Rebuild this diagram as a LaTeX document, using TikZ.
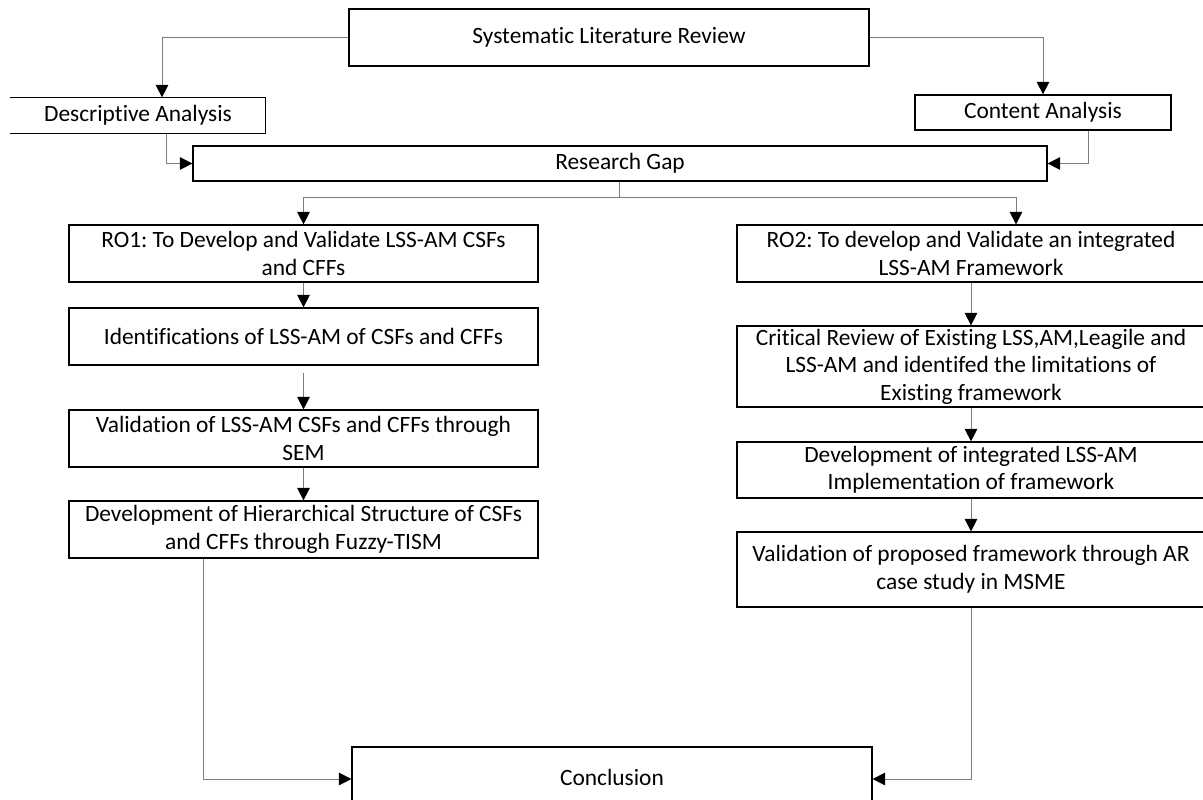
\documentclass[tikz,border=0pt]{standalone}
\usepackage{fontspec}
\setmainfont{Carlito}[Ligatures=CommonOff]
\usetikzlibrary{arrows.meta}
\definecolor{linegray}{RGB}{125,125,125}
\frenchspacing
\begin{document}
\begin{tikzpicture}[x=1pt,y=-1pt,
  box/.style={draw=black, line width=1.2pt, inner sep=0pt, align=center,
    font=\fontsize{23.4pt}{27.5pt}\selectfont},
  conn/.style={draw=linegray, line width=1pt,
    -{Triangle[length=12.5pt,width=12.5pt,color=black]}},
  plain/.style={draw=linegray, line width=1pt}
]
\clip (0,0) rectangle (1203,800);
\useasboundingbox (0,0) rectangle (1203,800);

% top level
\node[box, minimum width=520pt, minimum height=57pt] (slr) at (609,37.5) {Systematic Literature Review};
\node[box, draw=none, minimum width=254pt, minimum height=35pt] (desc) at (138,115.5) {Descriptive Analysis};
\draw[line width=1.2pt] (desc.north west) -- (desc.north east) -- (desc.south east) -- (desc.south west);
\node[box, minimum width=256pt, minimum height=35pt] (ca) at (1043,112.5) {Content Analysis};
\node[box, minimum width=854pt, minimum height=35pt] (rg) at (620,163.5) {Research Gap};

% left column
\node[box, minimum width=469pt, minimum height=57pt] (ro1) at (303.5,253.5) {RO1: To Develop and Validate LSS-AM CSFs\\and CFFs};
\node[box, minimum width=469pt, minimum height=57pt] (ident) at (303.5,336.5) {Identifications of LSS-AM of CSFs and CFFs};
\node[box, minimum width=469pt, minimum height=57pt] (val1) at (303.5,438.5) {Validation of LSS-AM CSFs and CFFs through\\SEM};
\node[box, minimum width=469pt, minimum height=57pt] (dev1) at (303.5,529.5) {Development of Hierarchical Structure of CSFs\\and CFFs through Fuzzy-TISM};

% right column
\node[box, minimum width=468pt, minimum height=57pt] (ro2) at (971,253.5) {RO2: To develop and Validate an integrated\\LSS-AM Framework};
\node[box, minimum width=468pt, minimum height=81pt] (crit) at (971,366.5) {Critical Review of Existing LSS,AM,Leagile and\\LSS-AM and identifed the limitations of\\Existing framework};
\node[box, minimum width=468pt, minimum height=56pt] (dev2) at (971,470) {Development of integrated LSS-AM\\Implementation of framework};
\node[box, minimum width=468pt, minimum height=75pt] (val2) at (971,569.5) {Validation of proposed framework through AR\\case study in MSME};

% final box
\node[box, minimum width=520pt, minimum height=60pt] (concl) at (612,777) {Conclusion};

% connectors
\draw[conn] (slr.west) -| ([xshift=24pt]desc.north);
\draw[conn] (slr.east) -| (ca.north);
\draw[conn] ([xshift=28pt]desc.south) |- (rg.west);
\draw[conn] ([xshift=45pt]ca.south) |- (rg.east);
\coordinate (split) at ([xshift=-1pt,yshift=-16pt]rg.south);
\draw[plain] ([xshift=-1pt]rg.south) -- (split);
\draw[conn] (split) -| (ro1.north);
\draw[conn] (split) -| ([xshift=45pt]ro2.north);

\draw[conn] (ro1.south) -- (ident.north);
\draw[conn] ([yshift=-7pt]ident.south) -- (val1.north);
\draw[conn] (val1.south) -- (dev1.north);
\draw[conn] ([xshift=-100.5pt]dev1.south) |- ([yshift=-2pt]concl.west);

\draw[conn] (ro2.south) -- (crit.north);
\draw[conn] (crit.south) -- (dev2.north);
\draw[conn] (dev2.south) -- (val2.north);
\draw[conn] (val2.south) |- ([yshift=-2pt]concl.east);
\end{tikzpicture}
\end{document}
